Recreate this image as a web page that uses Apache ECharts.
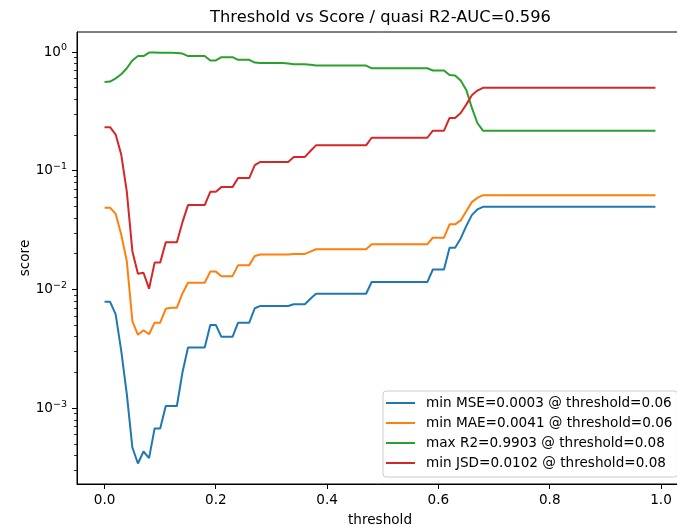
<!DOCTYPE html>
<html><head><meta charset="utf-8">
<script src="https://cdn.jsdelivr.net/npm/echarts@6/dist/echarts.min.js"></script>
<style>html,body{margin:0;padding:0;background:#fff}#c{width:677px;height:525px}</style>
</head><body><div id="c"></div>
<script>
// thresholds 0.00 .. 0.99
const thresholds = Array.from({length: 100}, (_, k) => +(k / 100).toFixed(2));

const mse = [
  0.0079, 0.0079, 0.0062, 0.00306, 0.00132, 0.00047, 0.000345, 0.000435, 0.000383, 0.00068,
  0.00068, 0.00105, 0.00105, 0.00105, 0.00201, 0.00326, 0.00326, 0.00326, 0.00326, 0.00505,
  0.00505, 0.00401, 0.00401, 0.00401, 0.00528, 0.00528, 0.00528, 0.00698, 0.0073, 0.0073,
  0.0073, 0.0073, 0.0073, 0.0073, 0.00754, 0.00754, 0.00754, 0.0084, 0.00925, 0.00925,
  0.00925, 0.00925, 0.00925, 0.00925, 0.00925, 0.00925, 0.00925, 0.00925, 0.0116, 0.0116,
  0.0116, 0.0116, 0.0116, 0.0116, 0.0116, 0.0116, 0.0116, 0.0116, 0.0116, 0.0148,
  0.0148, 0.0148, 0.0225, 0.0225, 0.027, 0.0343, 0.0424, 0.0474, 0.0498, 0.0498,
  0.0498, 0.0498, 0.0498, 0.0498, 0.0498, 0.0498, 0.0498, 0.0498, 0.0498, 0.0498,
  0.0498, 0.0498, 0.0498, 0.0498, 0.0498, 0.0498, 0.0498, 0.0498, 0.0498, 0.0498,
  0.0498, 0.0498, 0.0498, 0.0498, 0.0498, 0.0498, 0.0498, 0.0498, 0.0498, 0.0498
];
const mae = [
  0.049, 0.049, 0.0435, 0.029, 0.0174, 0.00545, 0.00417, 0.00456, 0.00422, 0.00528,
  0.00528, 0.0069, 0.00706, 0.00706, 0.0093, 0.01145, 0.01145, 0.01145, 0.01145, 0.0142,
  0.0142, 0.013, 0.013, 0.013, 0.0161, 0.0161, 0.0161, 0.0192, 0.0198, 0.0198,
  0.0198, 0.0198, 0.0198, 0.0198, 0.0200, 0.0200, 0.0200, 0.0209, 0.0219, 0.0219,
  0.0219, 0.0219, 0.0219, 0.0219, 0.0219, 0.0219, 0.0219, 0.0219, 0.0241, 0.0241,
  0.0241, 0.0241, 0.0241, 0.0241, 0.0241, 0.0241, 0.0241, 0.0241, 0.0241, 0.0274,
  0.0274, 0.0274, 0.0355, 0.0355, 0.0383, 0.0458, 0.0546, 0.0593, 0.0625, 0.0625,
  0.0625, 0.0625, 0.0625, 0.0625, 0.0625, 0.0625, 0.0625, 0.0625, 0.0625, 0.0625,
  0.0625, 0.0625, 0.0625, 0.0625, 0.0625, 0.0625, 0.0625, 0.0625, 0.0625, 0.0625,
  0.0625, 0.0625, 0.0625, 0.0625, 0.0625, 0.0625, 0.0625, 0.0625, 0.0625, 0.0625
];
const r2 = [
  0.56, 0.565, 0.60, 0.65, 0.73, 0.85, 0.925, 0.925, 0.9903, 0.99,
  0.985, 0.985, 0.985, 0.98, 0.97, 0.925, 0.925, 0.925, 0.925, 0.85,
  0.85, 0.905, 0.905, 0.905, 0.86, 0.86, 0.86, 0.815, 0.81, 0.81,
  0.81, 0.81, 0.81, 0.80, 0.79, 0.79, 0.79, 0.78, 0.77, 0.77,
  0.77, 0.77, 0.77, 0.77, 0.77, 0.77, 0.77, 0.77, 0.73, 0.73,
  0.73, 0.73, 0.73, 0.73, 0.73, 0.73, 0.73, 0.73, 0.73, 0.70,
  0.70, 0.70, 0.64, 0.635, 0.575, 0.48, 0.34, 0.253, 0.218, 0.218,
  0.218, 0.218, 0.218, 0.218, 0.218, 0.218, 0.218, 0.218, 0.218, 0.218,
  0.218, 0.218, 0.218, 0.218, 0.218, 0.218, 0.218, 0.218, 0.218, 0.218,
  0.218, 0.218, 0.218, 0.218, 0.218, 0.218, 0.218, 0.218, 0.218, 0.218
];
const jsd = [
  0.233, 0.233, 0.202, 0.137, 0.067, 0.0211, 0.0136, 0.0139, 0.0102, 0.0169,
  0.0169, 0.0251, 0.0251, 0.0251, 0.037, 0.0515, 0.0515, 0.0515, 0.0515, 0.0667,
  0.0667, 0.073, 0.073, 0.073, 0.087, 0.087, 0.087, 0.112, 0.119, 0.119,
  0.119, 0.119, 0.119, 0.119, 0.131, 0.131, 0.131, 0.147, 0.164, 0.164,
  0.164, 0.164, 0.164, 0.164, 0.164, 0.164, 0.164, 0.164, 0.19, 0.19,
  0.19, 0.19, 0.19, 0.19, 0.19, 0.19, 0.19, 0.19, 0.19, 0.218,
  0.218, 0.218, 0.279, 0.279, 0.307, 0.361, 0.433, 0.474, 0.5, 0.5,
  0.5, 0.5, 0.5, 0.5, 0.5, 0.5, 0.5, 0.5, 0.5, 0.5,
  0.5, 0.5, 0.5, 0.5, 0.5, 0.5, 0.5, 0.5, 0.5, 0.5,
  0.5, 0.5, 0.5, 0.5, 0.5, 0.5, 0.5, 0.5, 0.5, 0.5
];

const seriesNames = [
  'min MSE=0.0003 @ threshold=0.06',
  'min MAE=0.0041 @ threshold=0.06',
  'max R2=0.9903 @ threshold=0.08',
  'min JSD=0.0102 @ threshold=0.08'
];
const colors = ['#1f77b4', '#ff7f0e', '#2ca02c', '#d62728'];
const xTickValues = [0, 0.2, 0.4, 0.6, 0.8, 1.0];
const titleText = 'Threshold vs Score / quasi R2-AUC=0.596';

const FONT = 'DejaVu Sans';
const FS = 13.6;

// matplotlib-like 5% margins
const xLo = thresholds[0], xHi = thresholds[thresholds.length - 1];
const xPad = (xHi - xLo) * 0.05;
const allVals = [].concat(mse, mae, r2, jsd);
const lmin = Math.log10(Math.min(...allVals)), lmax = Math.log10(Math.max(...allVals));
const lpad = (lmax - lmin) * 0.05;
const yMin = Math.pow(10, lmin - lpad), yMax = Math.pow(10, lmax + lpad);

const chart = echarts.init(document.getElementById('c'), null, {renderer: 'canvas'});
const dataSets = [mse, mae, r2, jsd];

const option = {
  animation: false,
  backgroundColor: '#fff',
  title: {
    text: titleText, left: 380.5, top: 10, textAlign: 'center', padding: 0,
    textStyle: {fontFamily: FONT, fontSize: 16.3, fontWeight: 'normal', color: '#000'}
  },
  grid: {left: 77, top: 32, width: 606, height: 452, show: true, borderColor: '#000', borderWidth: 1,
         containLabel: false, outerBoundsMode: 'none'},
  legend: {
    orient: 'vertical', left: 383, top: 391,
    icon: 'rect', itemWidth: 29, itemHeight: 2, itemGap: 6,
    padding: [5, 5, 7, 3],
    backgroundColor: 'rgba(255,255,255,0.8)', borderColor: '#cccccc', borderWidth: 1, borderRadius: 3,
    textStyle: {fontFamily: FONT, fontSize: FS, color: '#000', padding: [0, 0, 0, 6], lineHeight: 14},
    data: seriesNames
  },
  xAxis: {
    type: 'value', min: xLo - xPad, max: xHi + xPad,
    axisLine: {show: true, onZero: false, lineStyle: {color: '#000', width: 1}},
    axisTick: {show: false},
    splitLine: {show: false},
    axisLabel: {
      margin: 9, color: '#000', fontFamily: FONT, fontSize: FS,
      formatter: v => xTickValues.some(t => Math.abs(t - v) < 1e-9) ? v.toFixed(1) : ''
    },
    name: 'threshold', nameLocation: 'middle', nameGap: 29, nameMoveOverlap: false,
    nameTextStyle: {fontFamily: FONT, fontSize: FS, color: '#000'}
  },
  yAxis: {
    type: 'log', logBase: 10, min: yMin, max: yMax,
    axisLine: {show: true, onZero: false, lineStyle: {color: '#000', width: 1}},
    axisTick: {show: false},
    splitLine: {show: false},
    minorTick: {show: false},
    axisLabel: {
      margin: 10, color: '#000',
      formatter: v => {
        const l = Math.log10(v), e = Math.round(l);
        if (Math.abs(l - e) > 1e-6) return '';
        return '{b|10}{s|' + (e < 0 ? '\u2212' + (-e) : String(e)) + '}';
      },
      rich: {
        b: {fontFamily: FONT, fontSize: FS, color: '#000'},
        s: {fontFamily: FONT, fontSize: 9.5, color: '#000', padding: [0, 0, 9, 0]}
      }
    },
    name: 'score', nameLocation: 'middle', nameGap: 45, nameMoveOverlap: false,
    nameTextStyle: {fontFamily: FONT, fontSize: FS, color: '#000'}
  },
  series: dataSets.map((arr, i) => ({
    name: seriesNames[i], type: 'line', symbol: 'none', showSymbol: false,
    data: thresholds.map((t, k) => [t, arr[k]]),
    lineStyle: {width: 2, color: colors[i]}, itemStyle: {color: colors[i]},
    emphasis: {disabled: true}, z: 2 + i
  }))
};
chart.setOption(option);

// matplotlib-style ticks (major + log minor) positioned through the axes' own scales
function crisp(v) { return Math.round(v - 0.5) + 0.5; }
const g = [];
const x0 = chart.convertToPixel({xAxisIndex: 0}, xLo - xPad);
const yBottom = chart.convertToPixel({yAxisIndex: 0}, yMin);
xTickValues.forEach(t => {
  const px = crisp(chart.convertToPixel({xAxisIndex: 0}, t));
  g.push({type: 'line', silent: true, shape: {x1: px, y1: yBottom, x2: px, y2: yBottom + 5},
          style: {stroke: '#000', lineWidth: 1}});
});
for (let e = -4; e <= 0; e++) {
  for (let m = 1; m <= 9; m++) {
    const v = m * Math.pow(10, e);
    if (v < yMin || v > yMax) continue;
    const py = crisp(chart.convertToPixel({yAxisIndex: 0}, v));
    const len = m === 1 ? 5 : 3;
    g.push({type: 'line', silent: true, shape: {x1: x0 - len, y1: py, x2: x0, y2: py},
            style: {stroke: '#000', lineWidth: m === 1 ? 1 : 0.8}});
  }
}
chart.setOption({graphic: g});
</script>
</body></html>
